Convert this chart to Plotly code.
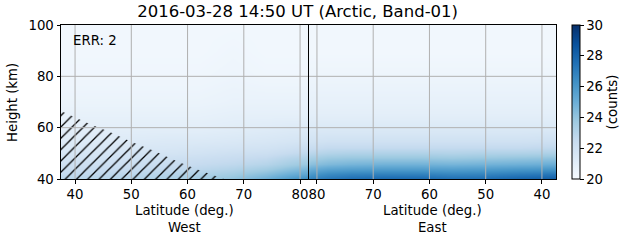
import plotly.graph_objects as go

# ---- data ----
heights = [40, 42, 44, 46, 48, 50, 52, 55, 60, 65, 70, 80, 90, 100]
pole_pos = 81.5  # along-track position of pole crossing

west_lats = [38, 44, 50, 56, 62, 68, 74, 78, 81]
east_lats = [81, 78, 74, 68, 62, 56, 50, 44, 38]

w38 = [22.9, 22.6, 22.3, 22.1, 21.9, 21.7, 21.5, 21.3, 21.0, 20.8, 20.6, 20.4, 20.3, 20.3]
w44 = [23.0, 22.7, 22.4, 22.1, 21.9, 21.7, 21.5, 21.3, 21.0, 20.8, 20.6, 20.4, 20.3, 20.3]
w50 = [23.1, 22.8, 22.5, 22.2, 22.0, 21.8, 21.6, 21.3, 21.0, 20.8, 20.6, 20.4, 20.3, 20.3]
w56 = [23.3, 23.0, 22.6, 22.3, 22.1, 21.8, 21.6, 21.4, 21.0, 20.8, 20.6, 20.4, 20.3, 20.3]
w62 = [23.6, 23.2, 22.8, 22.5, 22.2, 21.9, 21.7, 21.4, 21.0, 20.8, 20.6, 20.4, 20.3, 20.3]
w68 = [24.1, 23.6, 23.1, 22.7, 22.4, 22.1, 21.8, 21.5, 21.1, 20.9, 20.7, 20.5, 20.4, 20.3]
w74 = [25.0, 24.3, 23.6, 23.0, 22.6, 22.2, 21.9, 21.6, 21.2, 20.9, 20.7, 20.4, 20.3, 20.3]
w78 = [25.9, 25.0, 24.2, 23.5, 23.0, 22.5, 22.1, 21.7, 21.3, 20.9, 20.7, 20.4, 20.3, 20.3]
w81 = [26.5, 25.4, 24.6, 23.8, 23.2, 22.7, 22.3, 21.8, 21.3, 20.9, 20.7, 20.4, 20.3, 20.3]
e81 = [26.9, 26.0, 25.1, 24.2, 23.5, 22.9, 22.4, 21.9, 21.4, 21.0, 20.8, 20.5, 20.3, 20.3]
e78 = [27.3, 26.5, 25.5, 24.5, 23.8, 23.1, 22.6, 22.0, 21.4, 21.0, 20.8, 20.5, 20.3, 20.3]
e74 = [27.7, 26.8, 25.7, 24.7, 23.9, 23.2, 22.6, 22.0, 21.4, 21.0, 20.8, 20.5, 20.3, 20.3]
e68 = [27.9, 26.9, 25.8, 24.8, 23.9, 23.2, 22.6, 22.0, 21.4, 21.0, 20.8, 20.5, 20.3, 20.3]
e62 = [27.9, 26.9, 25.8, 24.8, 23.9, 23.2, 22.6, 22.0, 21.4, 21.0, 20.8, 20.5, 20.3, 20.3]
e56 = [27.6, 26.7, 25.7, 24.7, 23.8, 23.1, 22.6, 22.0, 21.4, 21.0, 20.8, 20.5, 20.3, 20.3]
e50 = [27.7, 26.8, 25.8, 24.8, 23.9, 23.2, 22.6, 22.0, 21.4, 21.0, 20.8, 20.5, 20.3, 20.3]
e44 = [28.1, 27.1, 26.0, 24.9, 24.0, 23.2, 22.6, 22.0, 21.4, 21.0, 20.8, 20.5, 20.3, 20.3]
e38 = [28.3, 27.3, 26.1, 25.0, 24.1, 23.3, 22.7, 22.1, 21.4, 21.0, 20.8, 20.5, 20.3, 20.3]

west_profiles = [w38, w44, w50, w56, w62, w68, w74, w78, w81]
east_profiles = [e81, e78, e74, e68, e62, e56, e50, e44, e38]

# hatched (masked) region boundary, West side
hatch_lats = [37.5, 40, 43, 46, 50, 54, 58, 62, 66.5]
hatch_tops = [66.5, 64, 61, 58.5, 54.5, 51, 47, 43.5, 40]

tick_lats_west = [40, 50, 60, 70, 80]
tick_lats_east = [80, 70, 60, 50, 40]
y_ticks = [40, 60, 80, 100]
x_min_lat = 37.5


def east_pos(lat):
    return 2 * pole_pos - lat


# ---- build ----
xs = [float(l) for l in west_lats] + [east_pos(l) for l in east_lats]
profiles = west_profiles + east_profiles
z = [[p[i] for p in profiles] for i in range(len(heights))]

blues = [[0.0, "#f7fbff"], [0.125, "#deebf7"], [0.25, "#c6dbef"], [0.375, "#9ecae1"],
         [0.5, "#6baed6"], [0.625, "#4292c6"], [0.75, "#2171b5"], [0.875, "#08519c"],
         [1.0, "#08306b"]]

font = "DejaVu Sans"
fs = 13.3
fig = go.Figure()
fig.add_trace(go.Heatmap(
    x=xs, y=heights, z=z, zmin=20, zmax=30, colorscale=blues, zsmooth="best",
    colorbar=dict(
        thickness=8, len=1, lenmode="fraction", y=0, yanchor="bottom", x=1.03,
        xanchor="left", xpad=0, ypad=0, outlinewidth=1, outlinecolor="black",
        tickvals=[20, 22, 24, 26, 28, 30], ticks="outside", ticklen=3.5,
        tickcolor="black", tickfont=dict(family=font, size=fs, color="black"),
        title=dict(text="(counts)", side="right",
                   font=dict(family=font, size=fs, color="black")),
    ),
    hoverinfo="skip",
))

hx = hatch_lats + [hatch_lats[-1], hatch_lats[0]]
hy = hatch_tops + [heights[0], heights[0]]
fig.add_trace(go.Scatter(
    x=hx, y=hy, mode="lines", fill="toself", line=dict(width=0),
    fillcolor="rgba(0,0,0,0)",
    fillpattern=dict(shape="/", fgcolor="black", fgopacity=1, bgcolor="rgba(0,0,0,0)",
                     size=8, solidity=0.16),
    showlegend=False, hoverinfo="skip",
))

tickvals = [float(l) for l in tick_lats_west] + [east_pos(l) for l in tick_lats_east]
ticktext = [str(l) for l in tick_lats_west] + [str(l) for l in tick_lats_east]

shapes = []
for tv in tickvals:
    shapes.append(dict(type="line", xref="x", yref="y domain", x0=tv, x1=tv, y0=0, y1=1,
                       line=dict(color="#b0b0b0", width=1), layer="above"))
for yv in y_ticks[1:-1]:
    shapes.append(dict(type="line", xref="x domain", yref="y", x0=0, x1=1, y0=yv, y1=yv,
                       line=dict(color="#b0b0b0", width=1), layer="above"))
shapes.append(dict(type="line", xref="x", yref="y domain", x0=pole_pos, x1=pole_pos,
                   y0=0, y1=1, line=dict(color="black", width=1), layer="above"))

x_max = east_pos(x_min_lat)
axis_common = dict(showline=True, linecolor="black", linewidth=1, mirror=True,
                   ticks="outside", ticklen=3.5, tickcolor="black", showgrid=False,
                   zeroline=False, layer="above traces",
                   tickfont=dict(family=font, size=fs, color="black"))

fig.update_layout(
    width=631, height=243,
    margin=dict(l=61, r=74, t=25, b=64),
    paper_bgcolor="white", plot_bgcolor="white",
    xaxis=dict(range=[x_min_lat, x_max], tickmode="array", tickvals=tickvals,
               ticktext=ticktext, tickangle=0, **axis_common),
    yaxis=dict(range=[heights[0], heights[-1]], tickmode="array", tickvals=y_ticks,
               **axis_common),
    shapes=shapes,
    title=dict(text="2016-03-28 14:50 UT (Arctic, Band-01)", x=0.478, xref="paper",
               xanchor="center", y=0.952, yref="container", yanchor="middle",
               font=dict(family=font, size=16.5, color="black")),
    showlegend=False,
    annotations=[
        dict(text="ERR: 2", x=0.02, y=0.96, xref="paper", yref="paper",
             xanchor="left", yanchor="top", showarrow=False,
             font=dict(family=font, size=fs, color="black")),
        dict(text="Latitude (deg.)<br>West", x=(x_min_lat + pole_pos) / 2, y=-0.14,
             xref="x", yref="paper", xanchor="center", yanchor="top", showarrow=False,
             font=dict(family=font, size=fs, color="black")),
        dict(text="Latitude (deg.)<br>East", x=(pole_pos + x_max) / 2, y=-0.14,
             xref="x", yref="paper", xanchor="center", yanchor="top", showarrow=False,
             font=dict(family=font, size=fs, color="black")),
        dict(text="Height (km)", x=-0.099, y=0.5, xref="paper", yref="paper",
             xanchor="center", yanchor="middle", textangle=-90, showarrow=False,
             font=dict(family=font, size=fs, color="black")),
    ],
)

fig.write_html("out.html")
